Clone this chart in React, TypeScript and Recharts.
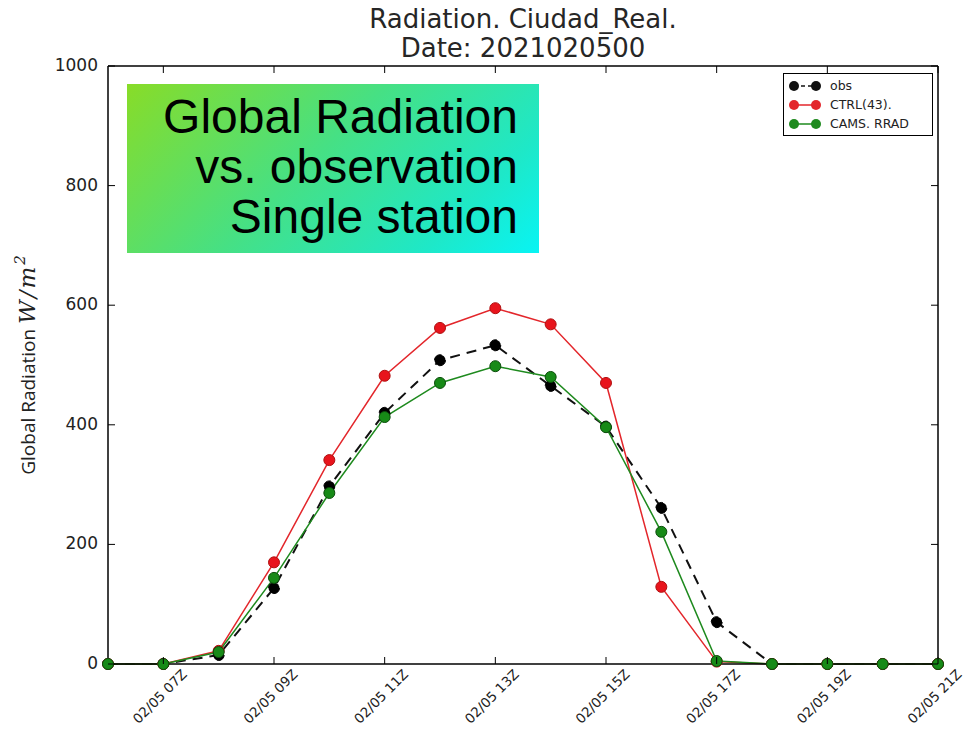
import React from "react";
import {
  LineChart,
  Line,
  XAxis,
  YAxis,
  Legend,
  ReferenceLine,
  Label,
} from "recharts";

const hours = [6, 7, 8, 9, 10, 11, 12, 13, 14, 15, 16, 17, 18, 19, 20, 21];
const obsValues = [0, 0, 15, 127, 297, 420, 508, 533, 465, 397, 261, 70, 0, 0, 0, 0];
const ctrlValues = [0, 0, 22, 170, 341, 482, 562, 595, 568, 470, 129, 4, 0, 0, 0, 0];
const camsValues = [0, 0, 20, 144, 286, 413, 470, 498, 480, 396, 221, 5, 0, 0, 0, 0];

const xTicks = [7, 9, 11, 13, 15, 17, 19, 21];
const yTicks = [0, 200, 400, 600, 800, 1000];
const seriesNames = ["obs", "CTRL(43).", "CAMS. RRAD"];

const W = 966;
const H = 729;
const TOP = 66;
const RIGHT = 28;
const PLOT_RIGHT = W - RIGHT;

const data = hours.map((h, i) => ({
  h,
  obs: obsValues[i],
  ctrl: ctrlValues[i],
  cams: camsValues[i],
}));

const fmtHour = (h: number) => `02/05 ${String(h).padStart(2, "0")}Z`;

const XTick = (props: any) => {
  const { x, y, payload } = props;
  const lx = x - 3;
  const ly = y + 33;
  return (
    <g>
      <line x1={x} x2={x} y1={y} y2={y - 7} stroke="#000" />
      <line x1={x} x2={x} y1={TOP} y2={TOP + 7} stroke="#000" />
      <text
        x={lx}
        y={ly}
        transform={`rotate(-45 ${lx} ${ly})`}
        textAnchor="middle"
        dominantBaseline="middle"
        fontSize={13.5}
        fontFamily="DejaVu Sans"
        fill="#222"
      >
        {fmtHour(payload.value)}
      </text>
    </g>
  );
};

const YTick = (props: any) => {
  const { x, y, payload } = props;
  return (
    <g>
      <line x1={x} x2={x + 7} y1={y} y2={y} stroke="#000" />
      <line x1={PLOT_RIGHT - 7} x2={PLOT_RIGHT} y1={y} y2={y} stroke="#000" />
      <text
        x={x - 10}
        y={y}
        textAnchor="end"
        dominantBaseline="middle"
        fontSize={17}
        fontFamily="DejaVu Sans"
        fill="#222"
      >
        {payload.value}
      </text>
    </g>
  );
};

const YLabel = (props: any) => {
  const vb = props.viewBox || { x: 0, y: TOP, width: 108, height: 598 };
  const cx = 35;
  const cy = vb.y + vb.height / 2;
  return (
    <text
      x={cx}
      y={cy}
      transform={`rotate(-90 ${cx} ${cy})`}
      textAnchor="middle"
      fontSize={19}
      fontFamily="Open Sans"
      fill="#222"
    >
      Global Radiation{" "}
      <tspan fontFamily="DejaVu Serif" fontStyle="italic" fontSize={23} letterSpacing={2}>
        W/m
      </tspan>
      <tspan fontFamily="DejaVu Serif" fontStyle="italic" fontSize={15} dy={-10}>
        2
      </tspan>
    </text>
  );
};

const renderLegend = (props: any) => {
  const payload: any[] = props.payload || [];
  const items = seriesNames
    .map((n) => payload.find((p) => p.value === n))
    .filter(Boolean);
  return (
    <div
      style={{
        border: "1.5px solid #000",
        background: "#fff",
        padding: "2px 4px",
        boxSizing: "border-box",
        width: 150,
      }}
    >
      {items.map((entry: any) => {
        const dashed = entry.value === "obs";
        return (
          <div
            key={entry.value}
            style={{ display: "flex", alignItems: "center", height: 19 }}
          >
            <svg width={34} height={12}>
              <line
                x1={6}
                x2={28}
                y1={6}
                y2={6}
                stroke={entry.color}
                strokeWidth={1.5}
                strokeDasharray={dashed ? "4 3" : undefined}
              />
              <circle cx={6} cy={6} r={5} fill={entry.color} />
              <circle cx={28} cy={6} r={5} fill={entry.color} />
            </svg>
            <span
              style={{
                fontSize: 12.5,
                fontFamily: "DejaVu Sans",
                marginLeft: 8,
                color: "#222",
              }}
            >
              {entry.value}
            </span>
          </div>
        );
      })}
    </div>
  );
};

export default function App() {
  return (
    <div
      style={{
        position: "absolute",
        left: 0,
        top: 0,
        width: W,
        height: H,
        background: "#fff",
      }}
    >
      <div
        style={{
          position: "absolute",
          left: 108,
          width: 830,
          top: 5,
          textAlign: "center",
          fontFamily: "DejaVu Sans",
          fontSize: 26,
          lineHeight: "29px",
          color: "#262626",
        }}
      >
        Radiation. Ciudad_Real.
        <br />
        Date: 2021020500
      </div>
      <LineChart
        width={W}
        height={H}
        data={data}
        margin={{ top: TOP, right: RIGHT, left: 0, bottom: 0 }}
      >
        <XAxis
          dataKey="h"
          type="number"
          domain={[6, 21]}
          ticks={xTicks}
          height={65}
          tickSize={0}
          tickMargin={0}
          tickLine={false}
          axisLine={{ stroke: "#000", strokeWidth: 1.5 }}
          tick={<XTick />}
          interval={0}
        />
        <YAxis
          type="number"
          domain={[0, 1000]}
          ticks={yTicks}
          width={108}
          tickSize={0}
          tickMargin={0}
          tickLine={false}
          axisLine={{ stroke: "#000", strokeWidth: 1.5 }}
          tick={<YTick />}
          interval={0}
        >
          <Label content={<YLabel />} />
        </YAxis>
        <ReferenceLine y={1000} stroke="#000" strokeWidth={1.5} />
        <ReferenceLine x={21} stroke="#000" strokeWidth={1.5} />
        <Legend
          content={renderLegend}
          layout="vertical"
          align="center"
          verticalAlign="middle"
          wrapperStyle={{ top: 73, left: 783, width: 150 }}
        />
        <Line
          dataKey="obs"
          name="obs"
          stroke="#111"
          strokeWidth={2}
          strokeDasharray="10 7"
          dot={{ r: 5.5, fill: "#000", stroke: "#000", strokeWidth: 1 }}
          isAnimationActive={false}
        />
        <Line
          dataKey="ctrl"
          name="CTRL(43)."
          stroke="#e3262b"
          strokeWidth={1.5}
          dot={{ r: 5.5, fill: "#e8141c", stroke: "#b01010", strokeWidth: 1 }}
          isAnimationActive={false}
        />
        <Line
          dataKey="cams"
          name="CAMS. RRAD"
          stroke="#1e8a1e"
          strokeWidth={1.5}
          dot={{ r: 5.5, fill: "#178a17", stroke: "#0b4d0b", strokeWidth: 1 }}
          isAnimationActive={false}
        />
      </LineChart>
      <div
        style={{
          position: "absolute",
          left: 127,
          top: 84,
          width: 412,
          height: 169,
          boxSizing: "border-box",
          paddingTop: 8,
          paddingRight: 21,
          background:
            "linear-gradient(135deg, #88dc28 0%, #46e084 45%, #1ee8c8 80%, #08f4f4 100%)",
          textAlign: "right",
          fontFamily: "Liberation Sans",
          fontSize: 48,
          lineHeight: "50px",
          color: "#000",
          whiteSpace: "nowrap",
        }}
      >
        Global Radiation
        <br />
        vs. observation
        <br />
        Single station
      </div>
    </div>
  );
}
